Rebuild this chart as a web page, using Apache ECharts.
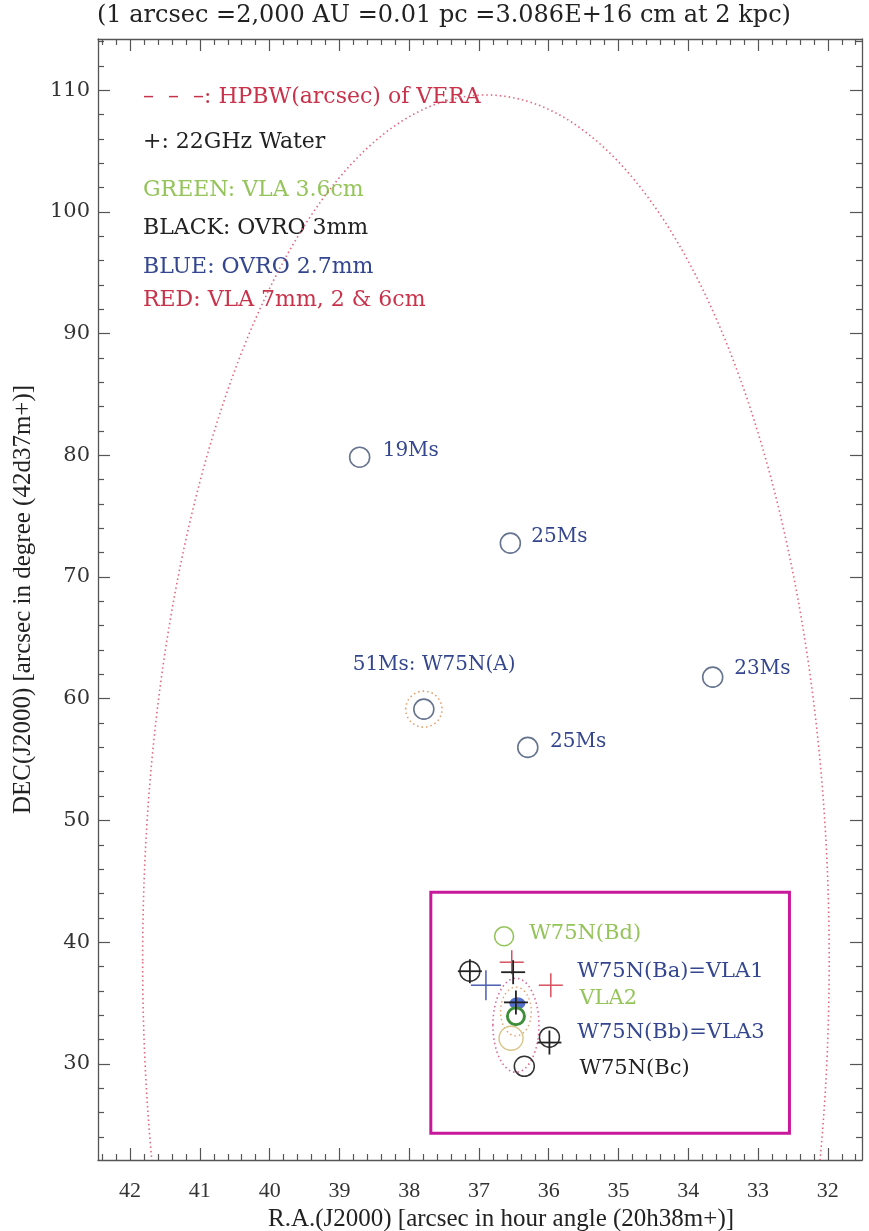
<!DOCTYPE html>
<html><head><meta charset="utf-8">
<script src="https://cdn.jsdelivr.net/npm/echarts@6/dist/echarts.min.js"></script>
<style>html,body{margin:0;padding:0;background:#fff}#c{width:869px;height:1231px}</style>
</head><body><div id="c"></div>
<script>
// ---------------- data ----------------
const xRange = [31.51, 42.46];          // R.A. arcsec (axis inverted)
const yRange = [22.1, 114.2];           // DEC arcsec
const xTickValues = [32, 33, 34, 35, 36, 37, 38, 39, 40, 41, 42];
const yTickValues = [30, 40, 50, 60, 70, 80, 90, 100, 110];
const xMinorStep = 0.2;
const yMinorStep = 2;

// VERA HPBW beam (dotted ellipse): centre and semi-axes in data units
const beamCenter = [36.9, 38.5];
const beamSemiAxes = [4.92, 71.1];

// OVRO 2.7mm sources (blue circles)
const blueSrcX = [38.71, 36.55, 37.79, 36.30, 33.65];
const blueSrcY = [79.84, 72.78, 59.14, 56.00, 61.77];
const blueSrcNames = ['19Ms', '25Ms', '51Ms: W75N(A)', '25Ms', '23Ms'];
const blueLabelX = [38.38, 36.25, 38.81, 35.98, 33.34];
const blueLabelY = [80.34, 73.27, 62.75, 56.43, 62.42];

// dotted source ellipses: [cx, cy, semiX, semiY]
const srcEllipses = [
  [37.79, 59.14, 0.26, 1.48],
  [36.47, 33.17, 0.33, 3.86],
  [36.47, 34.30, 0.22, 2.00]
];

// W75N(B) cluster
const greenCircX = [36.64];             // VLA 3.6cm  W75N(Bd)
const greenCircY = [40.48];
const vla2X = [36.47];                  // VLA2
const vla2Y = [33.91];
const blackCircX = [37.13, 35.99, 36.35]; // OVRO 3mm
const blackCircY = [37.61, 32.19, 29.80];
const tanCircX = [36.54];
const tanCircY = [32.10];
const blueBlobX = [36.45];
const blueBlobY = [34.98];

// 22GHz water masers (+)
const blackPlusX = [37.13, 36.51, 35.99, 36.47];
const blackPlusY = [37.61, 37.53, 31.75, 35.05];
const redPlusX = [36.53, 35.97];
const redPlusY = [38.35, 36.46];
const bluePlusX = [36.90];
const bluePlusY = [36.46];

// cluster labels
const clusterLabels = ['W75N(Bd)', 'W75N(Ba)=VLA1', 'VLA2', 'W75N(Bb)=VLA3', 'W75N(Bc)'];
const clusterLabelX = [36.28, 35.59, 35.56, 35.59, 35.56];
const clusterLabelY = [40.73, 37.61, 35.39, 32.60, 29.64];

// inset box corners
const boxCorners = [[37.69, 44.1], [32.55, 24.3]];

// ---------------- styling ----------------
const C = {
  red: '#c8324a', redDot: '#e3677f', green: '#94c45a', blue: '#34468f',
  black: '#222', grey: '#66748f', magenta: '#c8189c', tan: '#d9c48a', orange: '#e3a06a'
};
const SERIF = '"DejaVu Serif", serif';

function zip(xs, ys) { return xs.map((x, i) => [x, ys[i]]); }
function minorTicks(range, step, majors) {
  const out = [];
  const start = Math.ceil(range[0] / step) * step;
  for (let v = start; v <= range[1] + 1e-9; v += step) {
    const r = Math.round(v * 1000) / 1000;
    if (!majors.some(m => Math.abs(m - r) < 1e-6)) out.push(r);
  }
  return out;
}
const xMinor = minorTicks(xRange, xMinorStep, xTickValues);
const yMinor = minorTicks(yRange, yMinorStep, yTickValues);

const axisLineStyle = { color: '#555', width: 1.3 };
function mkX(pos, ticks, len, labels, line) {
  return {
    type: 'value', position: pos, inverse: true, min: xRange[0], max: xRange[1],
    axisLine: { show: line, lineStyle: axisLineStyle },
    axisTick: { show: true, inside: true, length: len, customValues: ticks, lineStyle: { color: '#555', width: 1.2 } },
    axisLabel: labels ? { show: true, customValues: ticks, margin: 20, color: '#333',
      fontFamily: '"Liberation Serif", serif', fontSize: 22 } : { show: false },
    splitLine: { show: false }, minorTick: { show: false }
  };
}
function mkY(pos, ticks, len, labels, line) {
  return {
    type: 'value', position: pos, min: yRange[0], max: yRange[1],
    axisLine: { show: line, lineStyle: axisLineStyle },
    axisTick: { show: true, inside: true, length: len, customValues: ticks, lineStyle: { color: '#555', width: 1.2 } },
    axisLabel: labels ? { show: true, customValues: ticks, margin: 8, color: '#333',
      fontFamily: SERIF, fontSize: 21 } : { show: false },
    splitLine: { show: false }, minorTick: { show: false }
  };
}

const xAxes = [mkX('bottom', xTickValues, 12, true, true), mkX('bottom', xMinor, 6, false, false),
               mkX('top', xTickValues, 12, false, true), mkX('top', xMinor, 6, false, false)];
xAxes[0].name = 'R.A.(J2000) [arcsec in hour angle (20h38m+)]';
xAxes[0].nameLocation = 'middle';
xAxes[0].nameGap = 46;
xAxes[0].nameTextStyle = { fontFamily: '"Liberation Serif", serif', fontSize: 25, color: '#222', padding: [0, 0, 0, 42] };
const yAxes = [mkY('left', yTickValues, 12, true, true), mkY('left', yMinor, 6, false, false),
               mkY('right', yTickValues, 12, false, true), mkY('right', yMinor, 6, false, false)];
yAxes[0].name = 'DEC(J2000) [arcsec in degree (42d37m+)]';
yAxes[0].nameLocation = 'middle';
yAxes[0].nameGap = 62;
yAxes[0].nameTextStyle = { fontFamily: '"Liberation Serif", serif', fontSize: 25, color: '#222' };

function ellipseSeries(data, color, dash, width, z) {
  return {
    type: 'custom', clip: true, z: z || 2, silent: true,
    data: data,
    encode: { x: 0, y: 1 },
    renderItem: function (params, api) {
      const c = api.coord([api.value(0), api.value(1)]);
      const s = api.size([api.value(2) * 2, api.value(3) * 2]);
      return { type: 'ellipse', shape: { cx: c[0], cy: c[1], rx: s[0] / 2, ry: s[1] / 2 },
        style: { fill: 'none', stroke: color, lineWidth: width, lineDash: dash } };
    }
  };
}
function circleSeries(data, color, size, width, z) {
  return {
    type: 'scatter', data: data, symbol: 'circle', symbolSize: size, z: z || 4, silent: true,
    itemStyle: { color: 'rgba(0,0,0,0)', borderColor: color, borderWidth: width, opacity: 1 }
  };
}
function plusSeries(data, color, arm, width, z) {
  return {
    type: 'custom', z: z || 5, silent: true, data: data, encode: { x: 0, y: 1 },
    renderItem: function (params, api) {
      const c = api.coord([api.value(0), api.value(1)]);
      return { type: 'group', children: [
        { type: 'line', shape: { x1: c[0] - arm, y1: c[1], x2: c[0] + arm, y2: c[1] }, style: { stroke: color, lineWidth: width } },
        { type: 'line', shape: { x1: c[0], y1: c[1] - arm, x2: c[0], y2: c[1] + arm }, style: { stroke: color, lineWidth: width } }
      ] };
    }
  };
}
function textSeries(xs, ys, texts, colors, size) {
  return {
    type: 'custom', z: 8, silent: true, data: zip(xs, ys), encode: { x: 0, y: 1 },
    renderItem: function (params, api) {
      const c = api.coord([api.value(0), api.value(1)]);
      const i = params.dataIndex;
      return { type: 'text', x: c[0], y: c[1],
        style: { text: texts[i], fill: colors[i], font: size + 'px ' + SERIF, align: 'left', verticalAlign: 'middle' } };
    }
  };
}

const series = [
  ellipseSeries([[beamCenter[0], beamCenter[1], beamSemiAxes[0], beamSemiAxes[1]]], C.redDot, [1.5, 3], 1.6, 1),
  ellipseSeries([srcEllipses[0]], C.orange, [1.5, 3], 1.6, 2),
  ellipseSeries([srcEllipses[1]], '#d86a9a', [1.5, 3], 1.6, 2),
  ellipseSeries([srcEllipses[2]], C.orange, [1.5, 3], 1.4, 2),
  circleSeries(zip(blueSrcX, blueSrcY), C.grey, 20, 1.6),
  circleSeries(zip(greenCircX, greenCircY), C.green, 19, 1.6),
  circleSeries(zip(tanCircX, tanCircY), C.tan, 24, 1.4),
  circleSeries(zip(blackCircX, blackCircY), '#333', 20, 1.5),
  { type: 'scatter', data: zip(blueBlobX, blueBlobY), symbol: 'circle', symbolSize: [16, 12], z: 4, silent: true,
    itemStyle: { color: '#2a4bc0' } },
  circleSeries(zip(vla2X, vla2Y), '#3f8f3a', 17, 3, 5),
  plusSeries(zip(redPlusX, redPlusY), '#d8505e', 12, 1.5),
  plusSeries(zip(bluePlusX, bluePlusY), '#4a5fb0', 15, 1.5),
  plusSeries(zip(blackPlusX, blackPlusY), '#222', 12, 1.8, 6),
  textSeries(blueLabelX, blueLabelY, blueSrcNames, blueSrcNames.map(() => C.blue), 20),
  textSeries(clusterLabelX, clusterLabelY, clusterLabels, [C.green, C.blue, C.green, C.blue, C.black], 21),
  {
    type: 'custom', z: 9, silent: true, data: [[boxCorners[0][0], boxCorners[0][1], boxCorners[1][0], boxCorners[1][1]]],
    encode: { x: [0, 2], y: [1, 3] },
    renderItem: function (params, api) {
      const a = api.coord([api.value(0), api.value(1)]);
      const b = api.coord([api.value(2), api.value(3)]);
      return { type: 'rect', shape: { x: Math.min(a[0], b[0]), y: Math.min(a[1], b[1]), width: Math.abs(b[0] - a[0]), height: Math.abs(b[1] - a[1]) },
        style: { fill: 'none', stroke: C.magenta, lineWidth: 3 } };
    }
  }
];

const legendLines = [
  { text: '\u2013  \u2013  \u2013: HPBW(arcsec) of VERA', color: C.red, y: 97 },
  { text: '+: 22GHz Water', color: C.black, y: 142 },
  { text: 'GREEN: VLA 3.6cm', color: C.green, y: 190 },
  { text: 'BLACK: OVRO 3mm', color: C.black, y: 228 },
  { text: 'BLUE: OVRO 2.7mm', color: C.blue, y: 267 },
  { text: 'RED: VLA 7mm, 2 & 6cm', color: C.red, y: 300 }
];

const chart = echarts.init(document.getElementById('c'), null, { renderer: 'canvas' });
chart.setOption({
  backgroundColor: '#fff',
  animation: false,
  grid: { left: 98, right: 7, top: 39, bottom: 71, containLabel: false, outerBoundsMode: 'none' },
  xAxis: xAxes,
  yAxis: yAxes,
  series: series,
  graphic: [
    { type: 'text', left: 97, top: 4, style: { text: '(1 arcsec =2,000 AU =0.01 pc =3.086E+16 cm at 2 kpc)', fill: '#222', font: '24px ' + SERIF } }
  ].concat(legendLines.map(l => ({ type: 'text', x: 143, y: l.y, style: { text: l.text, fill: l.color, font: '22px ' + SERIF, verticalAlign: 'middle' } })))
});
</script></body></html>
